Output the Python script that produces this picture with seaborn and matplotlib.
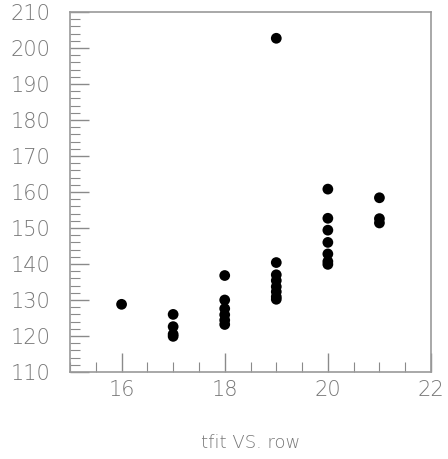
import matplotlib
matplotlib.use("Agg")
import matplotlib.pyplot as plt
import seaborn as sns
import pandas as pd
from matplotlib.ticker import MultipleLocator

row_16 = [128.8]
row_17 = [126.0, 122.6, 120.5, 119.9]
row_18 = [136.8, 130.0, 127.6, 125.9, 124.4, 123.2]
row_19 = [202.7, 140.4, 137.0, 135.4, 133.7, 132.3, 130.9, 130.2]
row_20 = [160.8, 152.7, 149.4, 146.0, 142.8, 140.7, 139.9]
row_21 = [158.4, 152.6, 151.4]

rows = [16, 17, 18, 19, 20, 21]
values = [row_16, row_17, row_18, row_19, row_20, row_21]

x_ticks = [16, 18, 20, 22]
y_ticks = [110, 120, 130, 140, 150, 160, 170, 180, 190, 200, 210]
xlabel = "tfit VS. row"

df = pd.DataFrame(
    [(r, v) for r, vs in zip(rows, values) for v in vs], columns=["row", "tfit"]
)

sns.set_theme(style="white")
plt.rcParams["font.family"] = ["DejaVu Sans"]

fig = plt.figure(figsize=(4.48, 4.59), dpi=100)
ax = fig.add_axes([70 / 448, 1 - 372 / 459, (431 - 70) / 448, (372 - 12) / 459])

sns.scatterplot(data=df, x="row", y="tfit", ax=ax, color="black", s=60,
                linewidth=0, edgecolor="none")

ax.set_xlim(15, 22)
ax.set_ylim(110, 210)
ax.set_xticks(x_ticks)
ax.set_yticks(y_ticks)
ax.xaxis.set_minor_locator(MultipleLocator(0.5))
ax.yaxis.set_minor_locator(MultipleLocator(2))
grey = "#8a8a8a"
ax.tick_params(axis="both", which="both", bottom=True, left=True, top=False, right=False)
ax.tick_params(axis="both", which="major", direction="in", length=14, width=1,
               color=grey, labelcolor="#777777", labelsize=15)
ax.tick_params(axis="both", which="minor", direction="in", length=7, width=0.8,
               color=grey)
ax.tick_params(axis="x", which="major", pad=6)
ax.tick_params(axis="y", which="major", pad=14)
for lab in ax.get_xticklabels() + ax.get_yticklabels():
    lab.set_fontweight("light")
for s in ax.spines.values():
    s.set_color("#9a9a9a")
    s.set_linewidth(1.2)
ax.set_xlabel(xlabel, color="#777777", fontsize=13, labelpad=24, fontweight="light")
ax.set_ylabel("")

fig.savefig("out.png", dpi=100)
